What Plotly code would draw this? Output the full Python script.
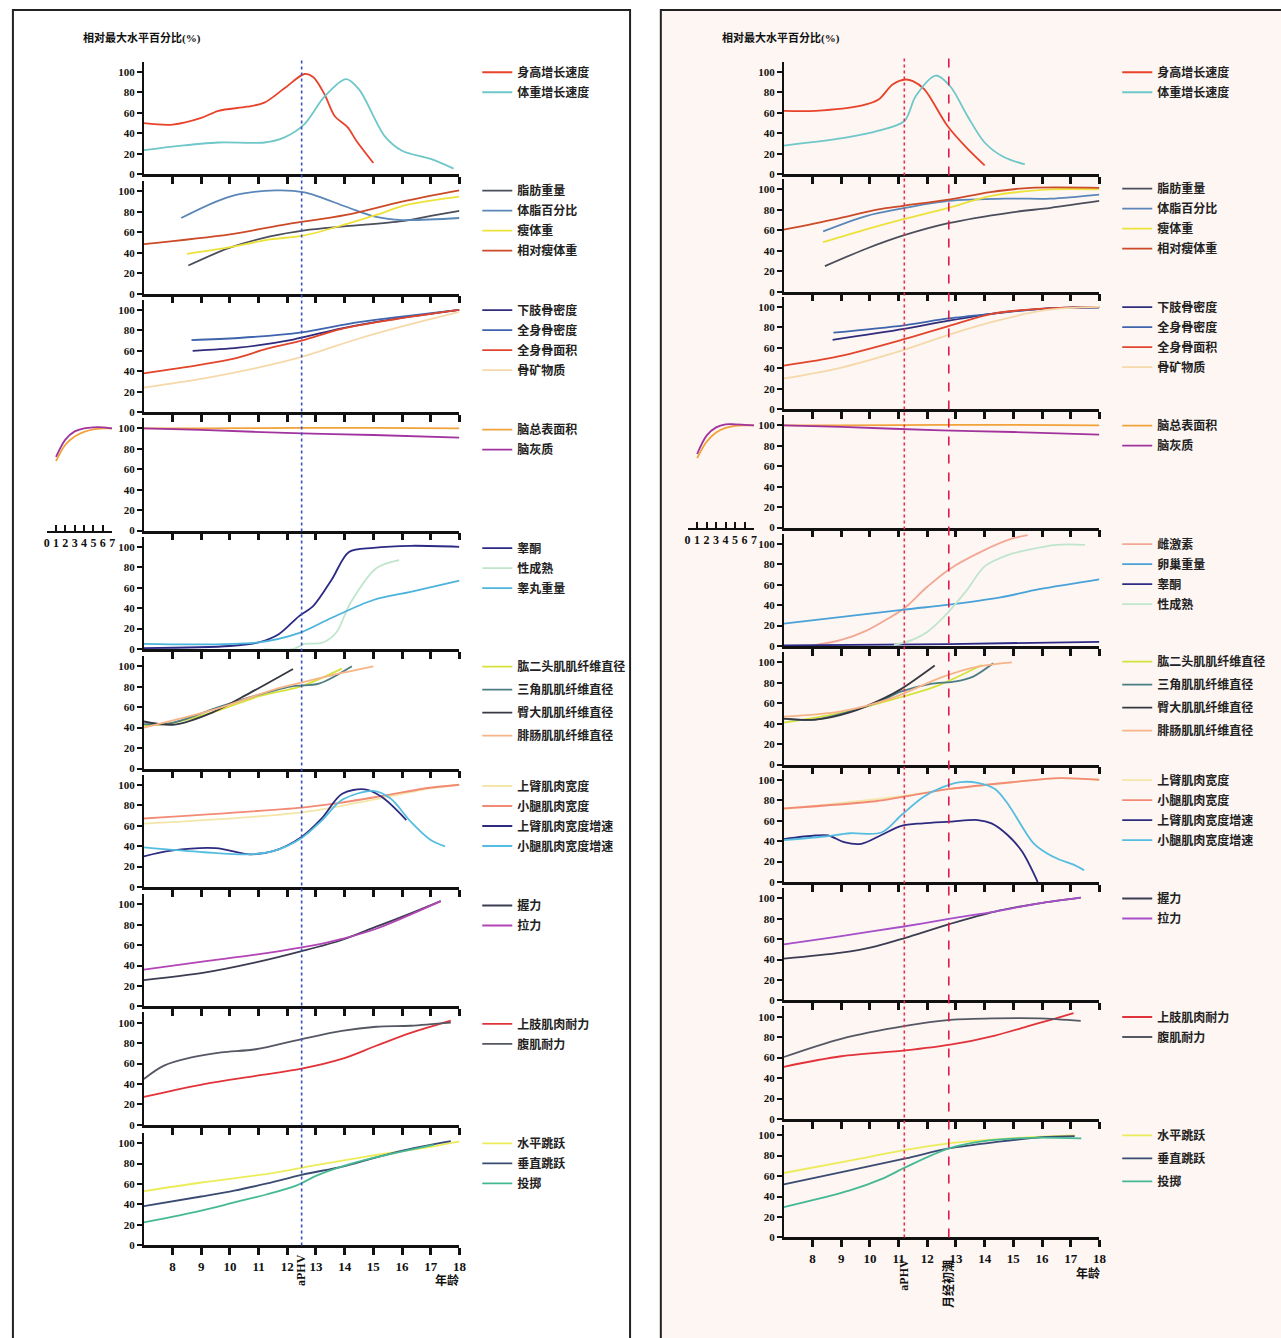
import plotly.graph_objects as go

W, H = 1281, 1338

# ======================= DATA: boys (left panel) =======================
b_height_vel_age = [7, 8, 9, 9.6, 10.6, 11.2, 11.9, 12.6, 12.9, 13.3, 13.65, 14.1, 14.4, 15.0]
b_height_vel = [50, 48.5, 55, 62, 66, 70, 84, 98, 95, 78, 57, 46, 33, 11]
b_weight_vel_age = [7, 8, 9.6, 11.2, 11.9, 12.6, 13.3, 14.05, 14.5, 15.4, 16.0, 17.0, 17.8]
b_weight_vel = [23.5, 27, 31, 31, 36, 49, 76, 93, 83, 37, 23, 15, 5.5]

b_fat_mass_age = [8.55, 10, 11.4, 12.6, 14.05, 16, 17, 18]
b_fat_mass = [27.5, 45, 56, 62, 66, 71, 76, 81]
b_fat_pct_age = [8.3, 10, 11.6, 12.6, 14.05, 15.1, 16, 18]
b_fat_pct = [74, 95, 101, 99, 85, 75, 72, 74]
b_lean_age = [8.5, 9.7, 11.4, 12.6, 14.05, 15.1, 16.2, 18]
b_lean = [39, 44, 53, 57, 68, 77, 87, 95]
b_rel_lean_age = [7, 10, 12, 14.05, 16, 18]
b_rel_lean = [48.5, 58, 68, 77, 90, 101]

b_leg_bmd_age = [8.7, 10.3, 12.2, 13.9, 15.7, 18]
b_leg_bmd = [60, 63, 71, 82, 91, 100]
b_tb_bmd_age = [8.66, 10.3, 12.5, 14.5, 18]
b_tb_bmd = [70.5, 72.5, 78, 88, 100]
b_tb_area_age = [7, 8.9, 10.1, 11.3, 12.5, 13.9, 15.7, 18]
b_tb_area = [38, 46, 52, 62, 70, 81.5, 90.6, 100]
b_bmc_age = [7, 9.1, 10.9, 12.5, 14.5, 16.3, 18]
b_bmc = [24, 33, 43, 54, 72, 86, 98]

b_brain_age = [7, 9, 12.5, 15, 18]
b_brain_sa = [100, 100, 100.5, 100.5, 100]
b_brain_gm = [100, 98.5, 95, 93.5, 91]
b_inset_age = [1, 2, 3, 4, 5, 6, 7]
b_inset_sa = [68, 84, 92, 96.5, 99, 100, 100]
b_inset_gm = [72, 89, 97, 100, 101, 101, 100]

b_testo_age = [7, 10, 11, 11.7, 12.4, 12.9, 13.55, 14.15, 15, 16.3, 18]
b_testo = [1, 3, 6.5, 14.5, 32, 42, 68, 95, 99, 101, 100]
b_sexmat_age = [11.2, 12.2, 12.6, 13.2, 13.7, 14.2, 15.1, 15.9]
b_sexmat = [0, 0, 5, 6, 16, 45, 79, 87]
b_testis_age = [7, 11, 12.4, 13.55, 15, 16.3, 18]
b_testis = [5, 6.5, 15.5, 30.6, 48, 56, 67]

b_biceps_age = [7, 7.95, 9.5, 11.05, 12.5, 13.9]
b_biceps = [42, 44.5, 56, 71, 80.6, 97.7]
b_deltoid_age = [7, 7.95, 9.6, 11.05, 12.2, 13.1, 14.25]
b_deltoid = [43.5, 44.5, 60, 72.6, 80.6, 83, 100]
b_glute_age = [7, 8.07, 9.4, 10.7, 12.2]
b_glute = [46, 43, 55, 74, 97.4]
b_gastro_age = [7, 9.5, 11.5, 12.7, 13.9, 15]
b_gastro = [40, 58, 77, 85.5, 93.5, 100]

b_arm_w_age = [7, 12.5, 15.1, 17, 18]
b_arm_w = [62, 73, 86, 96.5, 100]
b_calf_w_age = [7, 12.5, 13.65, 15.1, 16.9, 18]
b_calf_w = [67, 77.7, 81.6, 88, 96.8, 100]
b_arm_wv_age = [7, 7.95, 9.5, 10.7, 11.5, 12.5, 13.2, 13.9, 14.7, 15.3, 16.15]
b_arm_wv = [30, 35.5, 38, 32, 35, 49, 67, 91, 95.5, 88, 65.5]
b_calf_wv_age = [7, 9.1, 10.7, 11.5, 12.5, 13.2, 13.9, 15, 15.6, 16.3, 17, 17.5]
b_calf_wv = [38.7, 34, 32, 35, 48, 65, 85, 94, 86.5, 64, 46, 39.7]

b_grip_age = [7, 9.1, 10.9, 12.5, 13.9, 15.1, 16.3, 17.35]
b_grip = [25.8, 33, 43, 54, 65, 78, 91, 103]
b_pull_age = [7, 9.1, 10.9, 12.5, 13.3, 13.9, 15.1, 17.35]
b_pull = [36, 44, 50.6, 57.7, 62, 66, 76, 103]

b_arm_end_age = [7, 9.1, 10.9, 12.5, 13.9, 15.1, 16.3, 17.7]
b_arm_end = [27.4, 40, 48, 55, 64.5, 77.4, 90, 102]
b_abs_end_age = [7, 7.7, 8.66, 9.7, 10.9, 12.5, 13.9, 15.1, 16.3, 17.7]
b_abs_end = [45, 58, 66, 71, 74, 84, 92, 96, 97, 100]

b_hjump_age = [7, 9, 11.3, 12.9, 14.8, 17.1, 18]
b_hjump = [53, 61.5, 70, 78, 87, 96.8, 101.6]
b_vjump_age = [7, 9, 10.15, 11.3, 12.5, 14, 15.9, 17.7]
b_vjump = [38.5, 47.8, 53.5, 60.6, 69, 77.6, 92, 102]
b_throw_age = [7, 9, 10.15, 11.3, 12.35, 13, 14, 15, 17.1]
b_throw = [22.4, 34, 42, 50, 59, 68, 78, 85.6, 98.4]

b_aphv = 12.5

# ======================= DATA: girls (right panel) =======================
g_height_vel_age = [7, 8.1, 9.7, 10.3, 10.8, 11.25, 11.5, 11.9, 12.7, 13.4, 14.0]
g_height_vel = [62, 62, 67, 73, 88, 92.6, 91, 83, 47.4, 25, 8.7]
g_weight_vel_age = [7, 9.2, 10.3, 11.2, 11.6, 12.3, 12.8, 13.4, 14.0, 14.65, 15.4]
g_weight_vel = [28, 36, 42.6, 52, 76.5, 96.5, 86, 57, 31, 17, 9.7]

g_fat_mass_age = [8.43, 9.87, 11.17, 12.74, 14.9, 16.3, 18]
g_fat_mass = [25, 42, 55, 67, 77.4, 82, 88.7]
g_fat_pct_age = [8.37, 9.87, 11.17, 12.74, 14.9, 16.3, 18]
g_fat_pct = [59, 74, 81.6, 88.7, 91, 91, 95]
g_lean_age = [8.37, 9.87, 11.17, 12.74, 14.2, 16.3, 18]
g_lean = [48.4, 61, 71, 82, 93.5, 100, 100]
g_rel_lean_age = [7, 8.8, 10.3, 11.17, 12.74, 14.2, 15.6, 18]
g_rel_lean = [60.6, 71, 80.6, 84, 90, 97.4, 101.6, 101.6]

g_leg_bmd_age = [8.7, 11.19, 12.74, 14.3, 16.1, 18]
g_leg_bmd = [67.7, 78.4, 86.5, 93.5, 98.4, 99.4]
g_tb_bmd_age = [8.73, 11.19, 12.74, 14.3, 16.1, 18]
g_tb_bmd = [74.8, 82, 88.7, 93.5, 98.4, 100]
g_tb_area_age = [7, 8.9, 11.19, 12.74, 14.3, 16.1, 18]
g_tb_area = [42.6, 51.6, 68.4, 81.3, 93.5, 98.4, 100]
g_bmc_age = [7, 8.9, 11.19, 12.74, 14.3, 16.1, 18]
g_bmc = [30, 40, 58, 72.6, 85.5, 96.8, 100]

g_brain_age = [7, 9, 12.5, 15, 18]
g_brain_sa = [100, 100, 100.5, 100.5, 100]
g_brain_gm = [100, 98.5, 95, 93.5, 91]
g_inset_age = [1, 2, 3, 4, 5, 6, 7]
g_inset_sa = [68, 84, 93, 97.5, 99.5, 100, 100]
g_inset_gm = [72, 90, 98, 101, 101, 100.5, 100]

g_estro_age = [7.9, 9, 9.9, 10.7, 11.2, 12.0, 12.76, 13.9, 14.95, 15.5]
g_estro = [0, 6, 15.4, 28, 37, 58, 75, 92.6, 105, 108.5]
g_ovary_age = [7, 11.2, 12.76, 14.55, 15.9, 18]
g_ovary = [22, 35.7, 40.5, 47.6, 55.6, 65.3]
g_testo_age = [7, 12.76, 18]
g_testo = [0.6, 2, 4.2]
g_sexmat_age = [10.84, 11.5, 12, 12.56, 13.36, 14.0, 14.8, 15.5, 16.5, 17.5]
g_sexmat = [1, 6.4, 13.8, 28, 54, 78, 89, 94, 99, 99]

g_biceps_age = [7, 9, 10.77, 12.3, 13.9]
g_biceps = [41, 50.6, 63.5, 76.5, 97.4]
g_deltoid_age = [7, 8.1, 10.2, 11.1, 12.08, 13.0, 13.6, 14.3]
g_deltoid = [45, 44, 60, 71.6, 78.7, 81.3, 86, 99]
g_glute_age = [7, 8.1, 9.3, 10.5, 11.1, 12.26]
g_glute = [45, 44, 51, 65, 74, 96.8]
g_gastro_age = [7, 9, 10.77, 12.56, 13.76, 14.95]
g_gastro = [46.8, 52, 65, 86, 95.8, 100]

g_arm_w_age = [7, 11.1, 12.8, 15, 16.6, 18]
g_arm_w = [71.3, 84, 91, 97.7, 101.6, 100]
g_calf_w_age = [7, 10.2, 11.1, 12.8, 15, 16.6, 18]
g_calf_w = [72, 79, 83, 91, 97.7, 101.6, 100]
g_arm_wv_age = [7, 8.1, 8.55, 9.1, 9.7, 10.4, 11.1, 11.85, 12.8, 13.76, 14.24, 14.8, 15.3, 15.85]
g_arm_wv = [42, 45.5, 45.5, 39, 37.4, 46, 55, 57.4, 59, 60.6, 57.4, 46, 30, 0]
g_calf_wv_age = [7, 8.4, 9.3, 10.4, 11.1, 11.85, 12.56, 13.16, 13.76, 14.36, 14.8, 15.7, 16.15, 16.6, 17.1, 17.47]
g_calf_wv = [41, 44.5, 47.7, 48.4, 65.5, 83, 93, 97.7, 97, 91, 76.8, 38, 28.4, 22, 17, 11.6]

g_grip_age = [7, 9, 10.2, 11.24, 12.8, 14.36, 15.9, 17.35]
g_grip = [41, 46.8, 53, 61.3, 75, 87, 95, 100.6]
g_pull_age = [7, 9, 11.24, 12.8, 14.36, 15.9, 17.35]
g_pull = [54.8, 63, 72.6, 80, 87, 95, 100.6]

g_arm_end_age = [7, 9, 11.24, 12.8, 14.36, 15.55, 16.4, 17.1]
g_arm_end = [51, 61.3, 67, 72.6, 81.6, 91, 97.7, 103.5]
g_abs_end_age = [7, 9, 11.24, 12.8, 14.36, 15.9, 17.35]
g_abs_end = [60.6, 78.4, 91, 96.8, 98.4, 98.4, 96]

g_hjump_age = [7, 9.3, 11.25, 12.75, 13.9, 15.6, 17.14]
g_hjump = [63, 75, 85.6, 92, 95, 98, 99.7]
g_vjump_age = [7, 9.3, 11.25, 12.75, 14.5, 16, 17.14]
g_vjump = [51.8, 65.5, 77.3, 87, 93.6, 98, 99]
g_throw_age = [7, 9.3, 10.44, 11.25, 12.75, 13.9, 15.6, 17.37]
g_throw = [29.7, 46, 57.5, 68.7, 87, 94, 97.4, 96.8]

g_aphv = 11.2
g_menarche = 12.75

x_ticks = [8, 9, 10, 11, 12, 13, 14, 15, 16, 17, 18]
y_ticks = [0, 20, 40, 60, 80, 100]
inset_ticks = [0, 1, 2, 3, 4, 5, 6, 7]

# ======================= series specification =======================
C = dict(
    hv="#e8432a", wv="#6ec7c8", fm="#4b4f5c", fp="#5a86b8", ln="#ece23a", rl="#cc4a28",
    lb="#2f2c7c", tb="#3d64ad", ta="#e2452c", bm="#f5d9ab", sa="#f2a23a", gm="#a0339e",
    te="#2b2a85", sm="#bfe6cc", ts="#4cb3dc", es="#f2a894", ov="#48a2d8",
    bi="#d5e23a", de="#4b7d82", gl="#363842", ga="#f6b487",
    aw="#f3e6a8", cw="#f28a74", awv="#2d2b80", cwv="#55bde0",
    gr="#3c3d52", pu="#b245b5", ae="#e2333a", ab="#555763",
    hj="#ecec5a", vj="#3a4b72", th="#45b894",
)

left_panels = [
    [("身高增长速度", C["hv"], b_height_vel_age, b_height_vel),
     ("体重增长速度", C["wv"], b_weight_vel_age, b_weight_vel)],
    [("脂肪重量", C["fm"], b_fat_mass_age, b_fat_mass),
     ("体脂百分比", C["fp"], b_fat_pct_age, b_fat_pct),
     ("瘦体重", C["ln"], b_lean_age, b_lean),
     ("相对瘦体重", C["rl"], b_rel_lean_age, b_rel_lean)],
    [("下肢骨密度", C["lb"], b_leg_bmd_age, b_leg_bmd),
     ("全身骨密度", C["tb"], b_tb_bmd_age, b_tb_bmd),
     ("全身骨面积", C["ta"], b_tb_area_age, b_tb_area),
     ("骨矿物质", C["bm"], b_bmc_age, b_bmc)],
    [("脑总表面积", C["sa"], b_brain_age, b_brain_sa),
     ("脑灰质", C["gm"], b_brain_age, b_brain_gm)],
    [("睾酮", C["te"], b_testo_age, b_testo),
     ("性成熟", C["sm"], b_sexmat_age, b_sexmat),
     ("睾丸重量", C["ts"], b_testis_age, b_testis)],
    [("肱二头肌肌纤维直径", C["bi"], b_biceps_age, b_biceps),
     ("三角肌肌纤维直径", C["de"], b_deltoid_age, b_deltoid),
     ("臀大肌肌纤维直径", C["gl"], b_glute_age, b_glute),
     ("腓肠肌肌纤维直径", C["ga"], b_gastro_age, b_gastro)],
    [("上臂肌肉宽度", C["aw"], b_arm_w_age, b_arm_w),
     ("小腿肌肉宽度", C["cw"], b_calf_w_age, b_calf_w),
     ("上臂肌肉宽度增速", C["awv"], b_arm_wv_age, b_arm_wv),
     ("小腿肌肉宽度增速", C["cwv"], b_calf_wv_age, b_calf_wv)],
    [("握力", C["gr"], b_grip_age, b_grip),
     ("拉力", C["pu"], b_pull_age, b_pull)],
    [("上肢肌肉耐力", C["ae"], b_arm_end_age, b_arm_end),
     ("腹肌耐力", C["ab"], b_abs_end_age, b_abs_end)],
    [("水平跳跃", C["hj"], b_hjump_age, b_hjump),
     ("垂直跳跃", C["vj"], b_vjump_age, b_vjump),
     ("投掷", C["th"], b_throw_age, b_throw)],
]

right_panels = [
    [("身高增长速度", C["hv"], g_height_vel_age, g_height_vel),
     ("体重增长速度", C["wv"], g_weight_vel_age, g_weight_vel)],
    [("脂肪重量", C["fm"], g_fat_mass_age, g_fat_mass),
     ("体脂百分比", C["fp"], g_fat_pct_age, g_fat_pct),
     ("瘦体重", C["ln"], g_lean_age, g_lean),
     ("相对瘦体重", C["rl"], g_rel_lean_age, g_rel_lean)],
    [("下肢骨密度", C["lb"], g_leg_bmd_age, g_leg_bmd),
     ("全身骨密度", C["tb"], g_tb_bmd_age, g_tb_bmd),
     ("全身骨面积", C["ta"], g_tb_area_age, g_tb_area),
     ("骨矿物质", C["bm"], g_bmc_age, g_bmc)],
    [("脑总表面积", C["sa"], g_brain_age, g_brain_sa),
     ("脑灰质", C["gm"], g_brain_age, g_brain_gm)],
    [("雌激素", C["es"], g_estro_age, g_estro),
     ("卵巢重量", C["ov"], g_ovary_age, g_ovary),
     ("睾酮", C["te"], g_testo_age, g_testo),
     ("性成熟", C["sm"], g_sexmat_age, g_sexmat)],
    [("肱二头肌肌纤维直径", C["bi"], g_biceps_age, g_biceps),
     ("三角肌肌纤维直径", C["de"], g_deltoid_age, g_deltoid),
     ("臀大肌肌纤维直径", C["gl"], g_glute_age, g_glute),
     ("腓肠肌肌纤维直径", C["ga"], g_gastro_age, g_gastro)],
    [("上臂肌肉宽度", C["aw"], g_arm_w_age, g_arm_w),
     ("小腿肌肉宽度", C["cw"], g_calf_w_age, g_calf_w),
     ("上臂肌肉宽度增速", C["awv"], g_arm_wv_age, g_arm_wv),
     ("小腿肌肉宽度增速", C["cwv"], g_calf_wv_age, g_calf_wv)],
    [("握力", C["gr"], g_grip_age, g_grip),
     ("拉力", "#a64fc8", g_pull_age, g_pull)],
    [("上肢肌肉耐力", C["ae"], g_arm_end_age, g_arm_end),
     ("腹肌耐力", C["ab"], g_abs_end_age, g_abs_end)],
    [("水平跳跃", C["hj"], g_hjump_age, g_hjump),
     ("垂直跳跃", C["vj"], g_vjump_age, g_vjump),
     ("投掷", C["th"], g_throw_age, g_throw)],
]

# ======================= layout geometry (page pixels) =======================
LEFT_X = (142, 460)
RIGHT_X = (787, 1105)
LEFT_Y0 = [175, 295, 414, 533, 652, 772, 891, 1011, 1130, 1251]
RIGHT_Y0 = [175, 293, 411, 530, 649, 768, 886, 1005, 1124, 1243]
SPAN = 113
LEFT_LEG = [71, 190, 310, 430, 549, 668, 788, 908, 1027, 1147]
RIGHT_LEG = [71, 188, 307, 426, 545, 663, 782, 901, 1020, 1139]
LEFT_GAP = [1, 1, 1, 1, 1, 4, 1, 1, 1, 1]
RIGHT_GAP = [1, 1, 1, 1, 1, 4, 1, 1, 1, 4]


def fx(px):
    return px / W


def fy(py):
    return 1 - py / H


NUM_FONT = dict(family="Liberation Serif", size=12, color="#111", weight="bold")
CJK_FONT = dict(family="Liberation Serif, Noto Sans CJK SC", size=12, color="#222", weight="bold")

fig = go.Figure()
layout = dict(
    width=W, height=H, margin=dict(l=0, r=0, t=0, b=0),
    paper_bgcolor="white", plot_bgcolor="rgba(0,0,0,0)",
    showlegend=True,
)


def add_panel_set(panels, x_px, y0s, leg_px, gaps, leg_text_x, base):
    for i, series in enumerate(panels):
        n = base + i + 1
        xa = "xaxis" if n == 1 else f"xaxis{n}"
        ya = "yaxis" if n == 1 else f"yaxis{n}"
        xs = "x" if n == 1 else f"x{n}"
        ys = "y" if n == 1 else f"y{n}"
        lg = "legend" if n == 1 else f"legend{n}"
        bottom = (i == len(panels) - 1)
        y0 = y0s[i]
        layout[xa] = dict(
            domain=[fx(x_px[0]), fx(x_px[1])], anchor=ys, range=[7, 18],
            showline=True, linewidth=2.5, linecolor="#111", mirror=False,
            ticks="outside", ticklen=7, tickwidth=2.5, tickcolor="#111",
            tickvals=x_ticks, showticklabels=bottom, tickfont=dict(NUM_FONT, size=13),
            showgrid=False, zeroline=False, fixedrange=True,
        )
        layout[ya] = dict(
            domain=[fy(y0), fy(y0 - SPAN)], anchor=xs, range=[0, 110],
            showline=True, linewidth=2, linecolor="#111",
            ticks="outside", ticklen=5, tickwidth=2, tickcolor="#111",
            tickvals=y_ticks, tickfont=dict(NUM_FONT, size=11),
            showgrid=False, zeroline=False, fixedrange=True,
        )
        layout[lg] = dict(
            x=fx(leg_text_x - 40), xanchor="left",
            y=fy(leg_px[i] - 13), yanchor="top",
            bgcolor="rgba(0,0,0,0)", font=CJK_FONT, traceorder="grouped",
            tracegroupgap=gaps[i], itemclick=False, itemdoubleclick=False,
        )
        for k, (name, color, ages, vals) in enumerate(series):
            fig.add_trace(go.Scatter(
                x=ages, y=vals, mode="lines", name=name,
                line=dict(color=color, width=1.8, shape="spline", smoothing=0.9),
                xaxis=xs, yaxis=ys, legend=lg, legendgroup=f"g{n}_{k}",
                hoverinfo="skip",
            ))


add_panel_set(left_panels, LEFT_X, LEFT_Y0, LEFT_LEG, LEFT_GAP, 518, 0)
add_panel_set(right_panels, RIGHT_X, RIGHT_Y0, RIGHT_LEG, RIGHT_GAP, 1163, 10)

# ---------- inset axes (age 0-7 brain curves) ----------
insets = [
    (21, (44, 110), LEFT_Y0[3], b_inset_age, b_inset_sa, b_inset_gm),
    (22, (690, 757), RIGHT_Y0[3], g_inset_age, g_inset_sa, g_inset_gm),
]
for n, xr, y0, ages, sa, gm in insets:
    layout[f"xaxis{n}"] = dict(
        domain=[fx(xr[0]), fx(xr[1])], anchor=f"y{n}", range=[0, 7],
        showline=True, linewidth=2, linecolor="#111",
        ticks="inside", ticklen=6, tickwidth=1.8, tickcolor="#111",
        tickvals=inset_ticks, tickfont=dict(NUM_FONT, size=12),
        showgrid=False, zeroline=False, fixedrange=True,
    )
    layout[f"yaxis{n}"] = dict(
        domain=[fy(y0), fy(y0 - SPAN)], anchor=f"x{n}", range=[0, 110],
        visible=False, fixedrange=True,
    )
    for vals, col in ((sa, C["sa"]), (gm, C["gm"])):
        fig.add_trace(go.Scatter(
            x=ages, y=vals, mode="lines", showlegend=False,
            line=dict(color=col, width=1.8, shape="spline", smoothing=0.9),
            xaxis=f"x{n}", yaxis=f"y{n}", hoverinfo="skip",
        ))

# ---------- frames, background and reference lines ----------
shapes = [
    dict(type="rect", xref="paper", yref="paper", x0=fx(663), x1=fx(1300),
         y0=fy(1360), y1=fy(10), fillcolor="#fdf6f3", line=dict(color="#222", width=2), layer="below"),
    dict(type="rect", xref="paper", yref="paper", x0=fx(10), x1=fx(632),
         y0=fy(1360), y1=fy(10), fillcolor="rgba(0,0,0,0)", line=dict(color="#222", width=2), layer="below"),
    dict(type="line", xref="x", yref="paper", x0=b_aphv, x1=b_aphv,
         y0=fy(LEFT_Y0[-1]), y1=fy(60), line=dict(color="#3b4fc4", width=1.6, dash="dot")),
    dict(type="line", xref="x11", yref="paper", x0=g_aphv, x1=g_aphv,
         y0=fy(RIGHT_Y0[-1]), y1=fy(58), line=dict(color="#e0304f", width=1.6, dash="dot")),
    dict(type="line", xref="x11", yref="paper", x0=g_menarche, x1=g_menarche,
         y0=fy(RIGHT_Y0[-1]), y1=fy(58), line=dict(color="#e01848", width=1.6, dash="dash")),
]
layout["shapes"] = shapes

TXT = dict(family="Liberation Serif, Noto Sans CJK SC", size=12, color="#111", weight="bold")
annotations = [
    dict(text="相对最大水平百分比(%)", xref="paper", yref="paper", x=fx(79), y=fy(38),
         xanchor="left", yanchor="middle", showarrow=False, font=dict(TXT, size=11)),
    dict(text="相对最大水平百分比(%)", xref="paper", yref="paper", x=fx(723), y=fy(38),
         xanchor="left", yanchor="middle", showarrow=False, font=dict(TXT, size=11)),
    dict(text="年龄", xref="paper", yref="paper", x=fx(447), y=fy(1286),
         xanchor="center", yanchor="middle", showarrow=False, font=TXT),
    dict(text="年龄", xref="paper", yref="paper", x=fx(1094), y=fy(1279),
         xanchor="center", yanchor="middle", showarrow=False, font=TXT),
    dict(text="aPHV", xref="x10", yref="paper", x=b_aphv, y=fy(1258),
         xanchor="center", yanchor="top", textangle=-90, showarrow=False, font=TXT),
    dict(text="aPHV", xref="x20", yref="paper", x=g_aphv, y=fy(1262),
         xanchor="center", yanchor="top", textangle=-90, showarrow=False, font=TXT),
    dict(text="月经初潮", xref="x20", yref="paper", x=g_menarche, y=fy(1264),
         xanchor="center", yanchor="top", textangle=-90, showarrow=False, font=TXT),
]
layout["annotations"] = annotations

fig.update_layout(**layout)
fig.write_html(
    "out.html",
    config={"displayModeBar": False},
    post_script="document.body.style.margin='0';document.body.style.overflow='hidden';",
)
